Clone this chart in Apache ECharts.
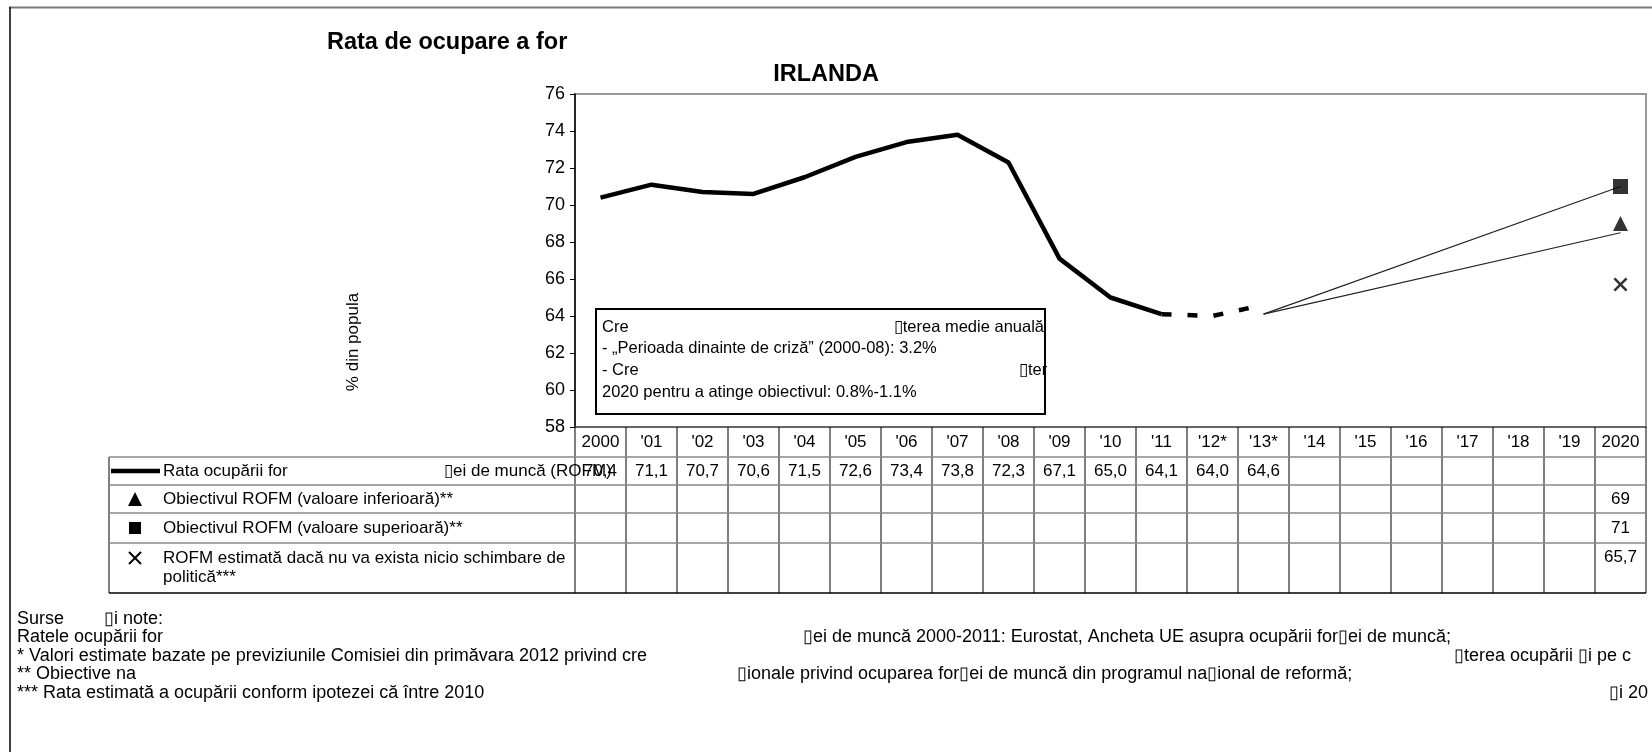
<!DOCTYPE html>
<html>
<head>
<meta charset="utf-8">
<script src="https://cdn.jsdelivr.net/npm/echarts@6/dist/echarts.min.js"></script>
<style>
  html, body { margin: 0; padding: 0; background: #fff; }
  #main { width: 1652px; height: 752px; }
</style>
</head>
<body>
<div id="main"></div>
<script>
// categorii (ani) si valori
const years = ['2000', "'01", "'02", "'03", "'04", "'05", "'06", "'07", "'08", "'09", "'10",
  "'11", "'12*", "'13*", "'14", "'15", "'16", "'17", "'18", "'19", '2020'];
const rofm = [70.4, 71.1, 70.7, 70.6, 71.5, 72.6, 73.4, 73.8, 72.3, 67.1, 65.0, 64.1, 64.0, 64.6];
const lastActual = 11;          // '11 = ultimul an observat, restul estimari
const targetLow = 69;
const targetHigh = 71;
const noChange = 65.7;
const pathStart = 64.1;         // start linii subtiri spre obiectiv ('13*)
const pathEndLow = 68.5;
const pathEndHigh = 71.0;
const yTicks = { min: 58, max: 76, interval: 2 };

const FONT = 'Liberation Sans, Arial, sans-serif';
const BOX = '\u25AF';
const n = years.length;
const last = n - 1;

const fmt = v => v.toFixed(1).replace('.', ',');

// serii construite din array-uri
const solidData = years.map((_, i) => (i <= lastActual ? rofm[i] : null));
const dashData = years.map((_, i) => (i >= lastActual && i < rofm.length ? rofm[i] : null));
const highPath = years.map((_, i) => (i === rofm.length - 1 ? pathStart : i === last ? pathEndHigh : null));
const lowPath = years.map((_, i) => (i === rofm.length - 1 ? pathStart : i === last ? pathEndLow : null));

const chart = echarts.init(document.getElementById('main'));

const option = {
  animation: false,
  backgroundColor: '#fff',
  textStyle: { fontFamily: FONT },
  grid: {
    left: 575, right: 6, top: 94, bottom: 325,
    show: true, borderColor: '#999', borderWidth: 2,
    outerBoundsMode: 'none'
  },
  xAxis: {
    type: 'category',
    data: years,
    boundaryGap: true,
    axisLine: { lineStyle: { color: '#555', width: 1.5 } },
    axisTick: { show: false },
    axisLabel: { interval: 0, color: '#000', fontSize: 17, margin: 7, fontFamily: FONT },
    splitLine: { show: false }
  },
  yAxis: {
    type: 'value',
    min: yTicks.min, max: yTicks.max, interval: yTicks.interval,
    axisLine: { show: true, lineStyle: { color: '#000', width: 1.5 } },
    axisTick: { show: true, length: 5, lineStyle: { color: '#000' } },
    axisLabel: { color: '#000', fontSize: 18, margin: 10, fontFamily: FONT },
    splitLine: { show: false }
  },
  series: [
    {
      name: 'ROFM', type: 'line', data: solidData, symbol: 'none',
      lineStyle: { color: '#000', width: 4.5 }, z: 5
    },
    {
      name: 'ROFM estimat', type: 'line', data: dashData, symbol: 'none',
      lineStyle: { color: '#000', width: 4.5, type: [10, 16] }, z: 5
    },
    {
      name: 'traseu sup', type: 'line', data: highPath, connectNulls: true, symbol: 'none',
      lineStyle: { color: '#222', width: 1.2 }
    },
    {
      name: 'traseu inf', type: 'line', data: lowPath, connectNulls: true, symbol: 'none',
      lineStyle: { color: '#222', width: 1.2 }
    },
    {
      name: 'Obiectiv inf', type: 'scatter', data: [[last, targetLow]],
      symbol: 'triangle', symbolSize: 15, itemStyle: { color: '#000' }, z: 6
    },
    {
      name: 'Obiectiv sup', type: 'scatter', data: [[last, targetHigh]],
      symbol: 'rect', symbolSize: 15, itemStyle: { color: '#000' }, z: 6
    },
    {
      name: 'Fara schimbare', type: 'scatter', data: [[last, noChange]],
      symbol: 'path://M0,1.3L1.3,0L5,3.7L8.7,0L10,1.3L6.3,5L10,8.7L8.7,10L5,6.3L1.3,10L0,8.7L3.7,5Z',
      symbolSize: 14, itemStyle: { color: '#000' }, z: 6
    }
  ]
};

chart.setOption(option);

// tabelul de date sub grafic, aliniat pe axa x
const cx = i => chart.convertToPixel({ xAxisIndex: 0 }, i);
const band = cx(1) - cx(0);
const colL = i => cx(i) - band / 2;
const tableLeft = 109;
const tableRight = colL(n);
const rowY = [427, 457, 485, 513, 543, 593];

const txt = (x, y, text, extra) => ({
  type: 'text', x: x, y: y, z: 50,
  style: Object.assign({ text: text, fill: '#000', fontSize: 17, fontFamily: FONT,
    align: 'left', verticalAlign: 'middle' }, extra || {})
});
const hline = (x1, x2, y, color, w) => ({
  type: 'line', z: 40, shape: { x1: x1, y1: y, x2: x2, y2: y },
  style: { stroke: color, lineWidth: w }
});
const vline = (x, y1, y2, color, w) => ({
  type: 'line', z: 40, shape: { x1: x, y1: y1, x2: x, y2: y2 },
  style: { stroke: color, lineWidth: w }
});

const g = [];

// cadru
g.push(hline(9, 1652, 7.5, '#777', 2));
g.push(vline(10, 7, 752, '#000', 1.5));

// titluri
g.push(txt(327, 43, 'Rata de ocupare a for', { fontSize: 23.5, fontWeight: 'bold' }));
g.push(txt(826, 75, 'IRLANDA', { fontSize: 23.5, fontWeight: 'bold', align: 'center' }));

// titlu axa y
g.push({
  type: 'text', x: 353, y: 342, rotation: Math.PI / 2, z: 50,
  style: { text: '% din popula', fill: '#000', fontSize: 17, fontFamily: FONT,
    align: 'center', verticalAlign: 'middle' }
});

// coloane
for (let i = 0; i <= n; i++) g.push(vline(colL(i), rowY[0], rowY[5], '#000', 1));
g.push(vline(tableLeft, rowY[1], rowY[5], '#000', 1));
for (let r = 1; r <= 4; r++) g.push(hline(tableLeft, tableRight, rowY[r], '#888', 1.5));
g.push(hline(tableLeft, tableRight, rowY[5], '#000', 1.5));

// randul 1: ROFM
g.push({ type: 'line', z: 45, shape: { x1: 111, y1: 471, x2: 160, y2: 471 },
  style: { stroke: '#000', lineWidth: 4.5 } });
g.push(txt(163, 471, 'Rata ocupării for'));
g.push(txt(444, 471, BOX + 'ei de muncă (ROFM)'));
rofm.forEach((v, i) => g.push(txt(cx(i), 471, fmt(v), { align: 'center' })));

// randul 2: obiectiv inferior
g.push({ type: 'polygon', z: 45, shape: { points: [[128, 506], [142, 506], [135, 492]] },
  style: { fill: '#000' } });
g.push(txt(163, 499, 'Obiectivul ROFM (valoare inferioară)**'));
g.push(txt(cx(last), 499, String(targetLow), { align: 'center' }));

// randul 3: obiectiv superior
g.push({ type: 'rect', z: 45, shape: { x: 129, y: 522, width: 12, height: 12 },
  style: { fill: '#000' } });
g.push(txt(163, 528, 'Obiectivul ROFM (valoare superioară)**'));
g.push(txt(cx(last), 528, String(targetHigh), { align: 'center' }));

// randul 4: fara schimbare
g.push({ type: 'line', z: 45, shape: { x1: 129, y1: 552, x2: 141, y2: 564 }, style: { stroke: '#000', lineWidth: 2 } });
g.push({ type: 'line', z: 45, shape: { x1: 141, y1: 552, x2: 129, y2: 564 }, style: { stroke: '#000', lineWidth: 2 } });
g.push(txt(163, 558, 'ROFM estimată dacă nu va exista nicio schimbare de'));
g.push(txt(163, 577, 'politică***'));
g.push(txt(cx(last), 557, fmt(noChange), { align: 'center' }));

// caseta de text
g.push({ type: 'rect', z: 60, shape: { x: 596, y: 309, width: 449, height: 105 },
  style: { fill: '#fff', stroke: '#000', lineWidth: 2 } });
const boxTxt = (x, y, t, extra) => {
  const e = txt(x, y, t, Object.assign({ fontSize: 16.5 }, extra || {}));
  e.z = 61;
  return e;
};
g.push(boxTxt(602, 327, 'Cre'));
g.push(boxTxt(1044, 327, BOX + 'terea medie anuală', { align: 'right' }));
g.push(boxTxt(602, 348, '- „Perioada dinainte de criză” (2000-08): 3.2%'));
g.push(boxTxt(602, 370, '- Cre'));
g.push(boxTxt(1019, 370, BOX + 'ter'));
g.push(boxTxt(602, 392, '2020 pentru a atinge obiectivul: 0.8%-1.1%'));

// note
const fy = [619, 637.5, 656, 674.5, 693];
const fs = { fontSize: 18 };
g.push(txt(17, fy[0], 'Surse', fs));
g.push(txt(104, fy[0], BOX + 'i note:', fs));
g.push(txt(17, fy[1], 'Ratele ocupării for', fs));
g.push(txt(803, fy[1], BOX + 'ei de muncă 2000-2011: Eurostat, Ancheta UE asupra ocupării for' + BOX + 'ei de muncă;', fs));
g.push(txt(17, fy[2], '* Valori estimate bazate pe previziunile Comisiei din primăvara 2012 privind cre', fs));
g.push(txt(1454, fy[2], BOX + 'terea ocupării ' + BOX + 'i pe c', fs));
g.push(txt(17, fy[3], '** Obiective na', fs));
g.push(txt(737, fy[3], BOX + 'ionale privind ocuparea for' + BOX + 'ei de muncă din programul na' + BOX + 'ional de reformă;', fs));
g.push(txt(17, fy[4], '*** Rata estimată a ocupării conform ipotezei că între 2010', fs));
g.push(txt(1609, fy[4], BOX + 'i 20', fs));

chart.setOption({ graphic: g });
</script>
</body>
</html>
